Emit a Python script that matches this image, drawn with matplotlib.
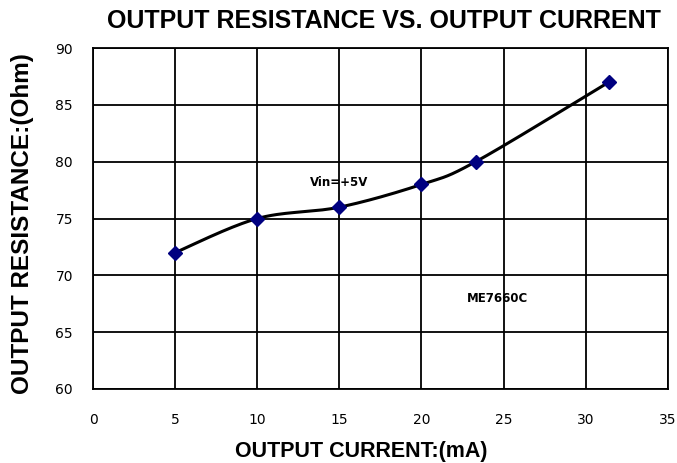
import numpy as np
import matplotlib
matplotlib.use("Agg")
import matplotlib.pyplot as plt

current_mA = [5, 10, 15, 20, 23.3, 31.4]
resistance_ohm = [72, 75, 76, 78, 80, 87]
x_ticks = [0, 5, 10, 15, 20, 25, 30, 35]
y_ticks = [60, 65, 70, 75, 80, 85, 90]


def smooth(xs, ys, n=30, t=1/6):
    xs = np.asarray(xs, float); ys = np.asarray(ys, float)
    px = np.concatenate([[xs[0]], xs, [xs[-1]]])
    py = np.concatenate([[ys[0]], ys, [ys[-1]]])
    ox, oy = [], []
    s = np.linspace(0, 1, n)
    for i in range(1, len(px) - 2):
        p0 = np.array([px[i], py[i]]); p3 = np.array([px[i+1], py[i+1]])
        p1 = p0 + t * (np.array([px[i+1], py[i+1]]) - np.array([px[i-1], py[i-1]]))
        p2 = p3 - t * (np.array([px[i+2], py[i+2]]) - np.array([px[i], py[i]]))
        b = ((1-s)**3)[:, None]*p0 + (3*(1-s)**2*s)[:, None]*p1 + (3*(1-s)*s**2)[:, None]*p2 + (s**3)[:, None]*p3
        ox.extend(b[:, 0]); oy.extend(b[:, 1])
    return ox, oy


fig = plt.figure(figsize=(6.77, 4.63), dpi=100)
ax = fig.add_axes([0.1374, 0.16, 0.849, 0.736])
ax.set_xlim(0, 35)
ax.set_ylim(60, 90)
ax.set_xticks(x_ticks)
ax.set_yticks(y_ticks)
ax.grid(True, color='black', linewidth=1.3)
ax.set_axisbelow(True)
for sp in ax.spines.values():
    sp.set_linewidth(1.3)
ax.tick_params(length=0, labelsize=10, pad=17.5)
ax.tick_params(axis='y', pad=14.5)

sx, sy = smooth(current_mA, resistance_ohm)
ax.plot(sx, sy, color='black', linewidth=2.2, zorder=3)
ax.plot(current_mA, resistance_ohm, linestyle='none', marker='D', color='#000080',
        markersize=7.5, zorder=4)

ax.text(15.0, 78.2, 'Vin=+5V', fontsize=8.5, fontweight='bold', ha='center', va='center')
ax.text(24.6, 68.0, 'ME7660C', fontsize=8.5, fontweight='bold', ha='center', va='center')

fig.text(0.567, 0.955, 'OUTPUT RESISTANCE VS. OUTPUT CURRENT', fontsize=18,
         family='Liberation Sans', fontweight='bold', ha='center', va='center')
fig.text(0.533, 0.025, 'OUTPUT CURRENT:(mA)', fontsize=15.5, family='Liberation Sans',
         fontweight='bold', ha='center', va='center')
fig.text(0.033, 0.518, 'OUTPUT RESISTANCE:(Ohm)', fontsize=17.5, family='Liberation Sans',
         fontweight='bold', ha='center', va='center', rotation=90)

fig.savefig('out.png', dpi=100)
